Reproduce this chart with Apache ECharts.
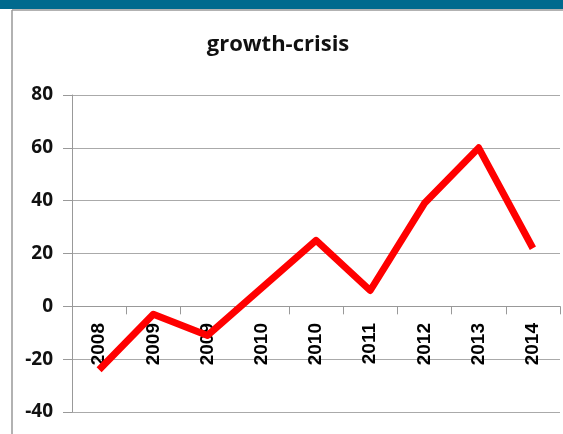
<!DOCTYPE html>
<html>
<head>
<meta charset="utf-8">
<script src="https://cdn.jsdelivr.net/npm/echarts@6/dist/echarts.min.js"></script>
<style>
  html,body{margin:0;padding:0;background:#fff}
  #chart{width:563px;height:434px}
</style>
</head>
<body>
<div id="chart"></div>
<script>
// years on the x axis (as labelled in the source, duplicates included)
let years=['2008','2009','2009','2010','2010','2011','2012','2013','2014']
let growth=[-24,-3,-11,7,25,6,39,60,22]
let yTicks={min:-40,max:80,step:20}

let myChart=echarts.init(document.getElementById('chart'))
let labelStyle={
  rotate:90,
  margin:16,
  fontFamily:'Liberation Sans',
  fontWeight:'bold',
  fontSize:19,
  color:'#000'
}
let options={
  animation:false,
  title:{
    text:'growth-crisis',
    left:273,
    textAlign:'center',
    top:29,
    textStyle:{
      fontFamily:'Open Sans',
      fontWeight:'bold',
      fontSize:22,
      color:'#111'
    }
  },
  graphic:[
    {type:'rect',shape:{x:0,y:0,width:563,height:9},style:{fill:'#006a8e'}},
    {type:'line',shape:{x1:12,y1:10,x2:563,y2:10},style:{stroke:'#999',lineWidth:1.5}},
    {type:'line',shape:{x1:12,y1:10,x2:12,y2:434},style:{stroke:'#999',lineWidth:1.5}}
  ],
  grid:{left:72,right:3,top:95,bottom:22,containLabel:false,outerBoundsMode:'none'},
  xAxis:[{
    type:'category',
    data:years,
    boundaryGap:true,
    axisLine:{onZero:true,lineStyle:{color:'#999'}},
    axisTick:{show:true,length:8,lineStyle:{color:'#999'}},
    axisLabel:{show:false}
  },{
    // labels only, moved up to sit under the zero line like the original
    type:'category',
    data:years,
    boundaryGap:true,
    position:'bottom',
    offset:-105,
    axisLine:{show:false,onZero:false},
    axisTick:{show:false},
    splitLine:{show:false},
    axisLabel:labelStyle
  }],
  yAxis:{
    type:'value',
    min:yTicks.min,
    max:yTicks.max,
    interval:yTicks.step,
    axisLine:{show:true,lineStyle:{color:'#999'}},
    axisTick:{show:true,length:9,lineStyle:{color:'#999'}},
    splitLine:{lineStyle:{color:'#aaa'}},
    axisLabel:{
      margin:19,
      fontFamily:'Open Sans',
      fontWeight:'bold',
      fontSize:19,
      color:'#111'
    }
  },
  series:[{
    name:'growth-crisis',
    type:'line',
    data:growth,
    xAxisIndex:0,
    symbol:'none',
    z:5,
    lineStyle:{color:'#ff0000',width:7,join:'round'}
  }]
}
myChart.setOption(options)
</script>
</body>
</html>
